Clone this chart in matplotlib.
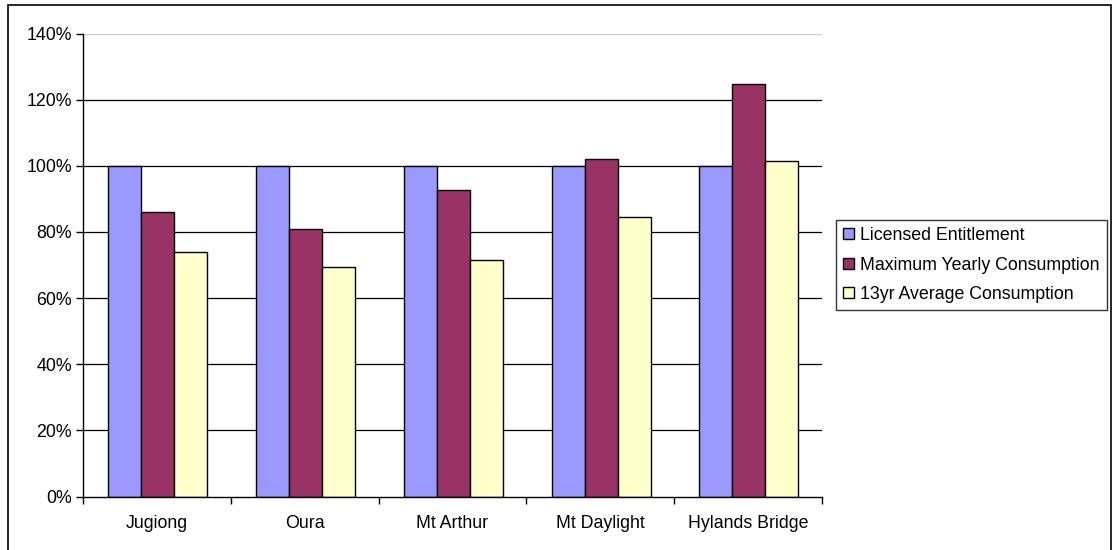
import matplotlib
matplotlib.use("Agg")
import matplotlib.pyplot as plt
import numpy as np
from matplotlib.patches import Rectangle

categories = ["Jugiong", "Oura", "Mt Arthur", "Mt Daylight", "Hylands Bridge"]
series_names = ["Licensed Entitlement", "Maximum Yearly Consumption", "13yr Average Consumption"]
licensed = [100, 100, 100, 100, 100]
max_yearly = [85.9, 80.8, 92.8, 102.1, 124.8]
avg_13yr = [74.0, 69.4, 71.5, 84.6, 101.4]
colors = ["#9999FF", "#993366", "#FFFFCC"]

plt.rcParams['font.family'] = ['Liberation Sans', 'DejaVu Sans']
FS = 12.8

fig = plt.figure(figsize=(11.13, 5.5), dpi=100)
ax = fig.add_axes([83/1113, 1-496.5/550, (822-83)/1113, (496.5-33.5)/550])

x = np.arange(len(categories))
bw = 0.2233
for i, (vals, name, c) in enumerate(zip([licensed, max_yearly, avg_13yr], series_names, colors)):
    ax.bar(x + (i - 1) * bw + 0.005, vals, width=bw, color=c, edgecolor="black", linewidth=1.0,
           label=name, zorder=3)

ax.set_xlim(-0.5, len(categories) - 0.5)
ax.set_ylim(0, 140)
yt = np.arange(0, 141, 20)
ax.set_yticks(yt)
ax.set_yticklabels([f"{v}%" for v in yt], fontsize=FS)
for v in yt[1:]:
    ax.axhline(v, color="black" if v < 140 else "#cccccc", linewidth=0.9, zorder=1)

ax.set_xticks(np.arange(len(categories) + 1) - 0.5)
ax.set_xticklabels([])
ax.set_xticks(x, minor=True)
ax.set_xticklabels(categories, minor=True, fontsize=FS)
ax.tick_params(axis="x", which="minor", length=0, pad=13)
ax.tick_params(axis="x", which="major", length=5, width=1, color="black")
ax.tick_params(axis="y", length=5, width=1, color="black", pad=3)

for s in ["top", "right"]:
    ax.spines[s].set_visible(False)
for s in ["left", "bottom"]:
    ax.spines[s].set_linewidth(1.0)
    ax.spines[s].set_color("black")
    ax.spines[s].set_zorder(4)

leg = fig.legend(loc="center left", bbox_to_anchor=(836/1113, 1-265/550),
                 fontsize=FS, frameon=True, fancybox=False, edgecolor="black",
                 handlelength=0.6, handleheight=0.6, handletextpad=0.35,
                 borderpad=0.4, labelspacing=0.7, borderaxespad=0)
leg.get_frame().set_linewidth(1.0)

fig.patches.append(Rectangle((8/1113, -0.05), (1111 - 8)/1113, 1.05 - 5/550,
                             transform=fig.transFigure, fill=False,
                             edgecolor="black", linewidth=1.2))

fig.savefig("out.png", dpi=100)
